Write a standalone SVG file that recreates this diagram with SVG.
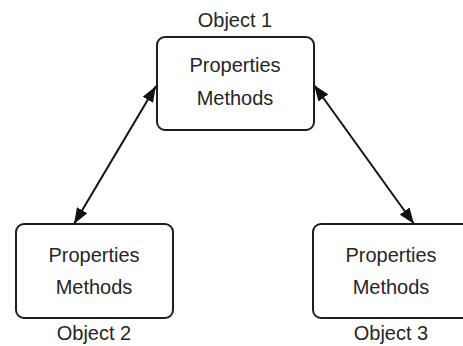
<svg xmlns="http://www.w3.org/2000/svg" width="463" height="346" viewBox="0 0 463 346">
<defs>
<style>
.box{fill:#fff;stroke:#1e1e1e;stroke-width:2}
.t{font-family:"Liberation Sans",Arial,sans-serif;font-size:20px;fill:#262626;text-anchor:middle}
.c{stroke:#111;stroke-width:2;fill:none;marker-start:url(#ah);marker-end:url(#ah)}
</style>
<marker id="ah" viewBox="0 0 16 12" refX="16" refY="6" markerWidth="16" markerHeight="12" markerUnits="userSpaceOnUse" orient="auto-start-reverse">
<path d="M0,0 L16,6 L0,12 z" fill="#111"/>
</marker>
</defs>
<rect width="463" height="346" fill="#fff"/>
<g id="connectors">
<line class="c" x1="156" y1="86" x2="74" y2="224"/>
<line class="c" x1="314" y1="85" x2="414" y2="224"/>
</g>
<g id="object1">
<rect class="box" x="157" y="37" width="157" height="93" rx="8"/>
<text class="t" x="235" y="27">Object 1</text>
<text class="t" x="235" y="72">Properties</text>
<text class="t" x="235" y="105">Methods</text>
</g>
<g id="object2">
<rect class="box" x="16" y="224" width="157" height="94" rx="8"/>
<text class="t" x="94" y="262">Properties</text>
<text class="t" x="94" y="294">Methods</text>
<text class="t" x="94" y="340">Object 2</text>
</g>
<g id="object3">
<rect class="box" x="313" y="224" width="157" height="94" rx="8"/>
<text class="t" x="391" y="262">Properties</text>
<text class="t" x="391" y="294">Methods</text>
<text class="t" x="391" y="340">Object 3</text>
</g>
</svg>
